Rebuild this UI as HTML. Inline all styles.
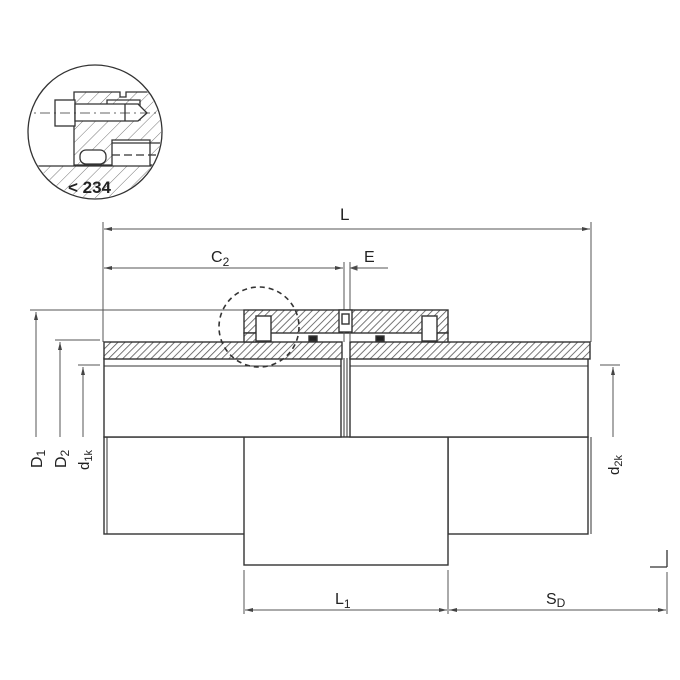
<!DOCTYPE html>
<html><head><meta charset="utf-8"><style>
body{margin:0;background:#fff}
svg{display:block}
text{font-family:"Liberation Sans",sans-serif;fill:#222}
</style></head><body>
<svg width="680" height="680" viewBox="0 0 680 680" xmlns="http://www.w3.org/2000/svg">
<defs>
<pattern id="h" width="5" height="5" patternUnits="userSpaceOnUse" patternTransform="rotate(45)">
<rect width="5" height="5" fill="#fff"/><line x1="0" y1="0" x2="0" y2="5" stroke="#555" stroke-width="1.6"/></pattern>
<pattern id="h2" width="9" height="9" patternUnits="userSpaceOnUse" patternTransform="rotate(45)">
<rect width="9" height="9" fill="#fff"/><line x1="0" y1="0" x2="0" y2="9" stroke="#777" stroke-width="1"/></pattern>
<clipPath id="cc"><circle cx="95" cy="132" r="66"/></clipPath>
<marker id="a" markerWidth="8" markerHeight="6" refX="8" refY="3" orient="auto-start-reverse" markerUnits="userSpaceOnUse"><path d="M0,1 L8,3 L0,5" fill="#444"/></marker>
</defs>

<!-- detail circle -->
<g clip-path="url(#cc)" stroke="#333" stroke-width="1.3" fill="none">
<rect x="20" y="166" width="160" height="40" fill="url(#h2)" stroke="none"/>
<line x1="20" y1="166" x2="180" y2="166"/>
<path d="M74,92 H120 V97 H126 V92 H170 V165 H150 V140 H112 V165 H74 Z" fill="url(#h2)"/>
<path d="M107,100 H140 V120 H107 Z" fill="url(#h2)"/>
<rect x="55" y="100" width="20" height="26" fill="#fff"/>
<path d="M75,104 H138 L147,113 L138,121 H75 Z" fill="#fff"/>
<line x1="125" y1="104" x2="125" y2="121"/>
<rect x="80" y="150" width="26" height="14" rx="6" fill="#fff"/>
<line x1="112" y1="143" x2="170" y2="143"/>
<line x1="112" y1="155" x2="170" y2="155" stroke-dasharray="8 4"/>
<line x1="20" y1="113" x2="170" y2="113" stroke-dasharray="10 4 2 4" stroke-width="0.8"/>
</g>
<circle cx="95" cy="132" r="67" fill="none" stroke="#333" stroke-width="1.3"/>
<text x="68" y="193" font-size="17" font-weight="bold">&lt; 234</text>

<!-- dims top -->
<g stroke="#555" stroke-width="1" fill="none">
<line x1="103" y1="222" x2="103" y2="342"/>
<line x1="591" y1="222" x2="591" y2="342"/>
<line x1="104" y1="229" x2="590" y2="229" marker-start="url(#a)" marker-end="url(#a)"/>
<line x1="104" y1="268" x2="343" y2="268" marker-start="url(#a)" marker-end="url(#a)"/>
<line x1="351" y1="268" x2="388" y2="268"/>
<path d="M351,268 l6,-2 v4z" fill="#444"/>
<line x1="344" y1="262" x2="344" y2="342"/>
<line x1="350" y1="262" x2="350" y2="342"/>
<!-- left dims -->
<line x1="30" y1="310" x2="244" y2="310"/>
<line x1="36" y1="312" x2="36" y2="437" marker-start="url(#a)"/>
<line x1="55" y1="340" x2="100" y2="340"/>
<line x1="60" y1="342" x2="60" y2="437" marker-start="url(#a)"/>
<line x1="78" y1="365" x2="100" y2="365"/>
<line x1="83" y1="367" x2="83" y2="437" marker-start="url(#a)"/>
<!-- right -->
<line x1="600" y1="365" x2="620" y2="365"/>
<line x1="613" y1="367" x2="613" y2="437" marker-start="url(#a)"/>
<!-- bottom -->
<line x1="244" y1="570" x2="244" y2="614"/>
<line x1="448" y1="570" x2="448" y2="614"/>
<line x1="667" y1="572" x2="667" y2="614"/>
<line x1="245" y1="610" x2="447" y2="610" marker-start="url(#a)" marker-end="url(#a)"/>
<line x1="449" y1="610" x2="666" y2="610" marker-start="url(#a)" marker-end="url(#a)"/>
</g>
<g stroke="#333" stroke-width="1.3"><line x1="667" y1="550" x2="667" y2="567"/><line x1="650" y1="567" x2="667" y2="567"/></g>

<text x="340" y="220" font-size="17">L</text>
<text x="211" y="262" font-size="16">C<tspan font-size="12" dy="4">2</tspan></text>
<text x="364" y="262" font-size="16">E</text>
<text x="335" y="604" font-size="16">L<tspan font-size="12" dy="4">1</tspan></text>
<text x="546" y="604" font-size="16">S<tspan font-size="12" dy="3">D</tspan></text>
<text transform="translate(42,468) rotate(-90)" font-size="16">D<tspan font-size="12" dy="3">1</tspan></text>
<text transform="translate(66,468) rotate(-90)" font-size="16">D<tspan font-size="12" dy="3">2</tspan></text>
<text transform="translate(89,470) rotate(-90)" font-size="15">d<tspan font-size="11" dy="3">1k</tspan></text>
<text transform="translate(619,475) rotate(-90)" font-size="15">d<tspan font-size="11" dy="3">2k</tspan></text>

<!-- body -->
<g stroke="#333" stroke-width="1.4" fill="#fff">
<rect x="104" y="437" width="141" height="97"/>
<line x1="107" y1="437" x2="107" y2="534" stroke-width="1"/>
<rect x="448" y="437" width="140" height="97"/>
<line x1="591" y1="437" x2="591" y2="534" stroke-width="1"/>
<rect x="244" y="437" width="204" height="128"/>
<rect x="104" y="358" width="237" height="79"/>
<rect x="350" y="358" width="238" height="79"/>
<line x1="104" y1="366" x2="341" y2="366" stroke-width="1"/>
<line x1="350" y1="366" x2="588" y2="366" stroke-width="1"/>
<line x1="344" y1="358" x2="344" y2="437" stroke-width="1"/>
<line x1="347" y1="358" x2="347" y2="437" stroke-width="1"/>
<rect x="104" y="342" width="238" height="17" fill="url(#h)"/>
<rect x="350" y="342" width="240" height="17" fill="url(#h)"/>
<rect x="244" y="310" width="204" height="23" fill="url(#h)"/>
<rect x="244" y="333" width="20" height="9" fill="url(#h)"/>
<rect x="428" y="333" width="20" height="9" fill="url(#h)"/>
<rect x="256" y="316" width="15" height="25" fill="#fff"/>
<rect x="422" y="316" width="15" height="25" fill="#fff"/>
<rect x="339" y="310" width="13" height="22" fill="#fff"/>
<rect x="342" y="314" width="7" height="10" fill="#fff"/>
<rect x="309" y="336" width="8" height="5" fill="#222"/>
<rect x="376" y="336" width="8" height="5" fill="#222"/>
</g>
<line x1="344" y1="332" x2="344" y2="342" stroke="#555"/><line x1="350" y1="332" x2="350" y2="342" stroke="#555"/>
<circle cx="259" cy="327" r="40" fill="none" stroke="#333" stroke-width="1.6" stroke-dasharray="5 4"/>
</svg>
</body></html>
